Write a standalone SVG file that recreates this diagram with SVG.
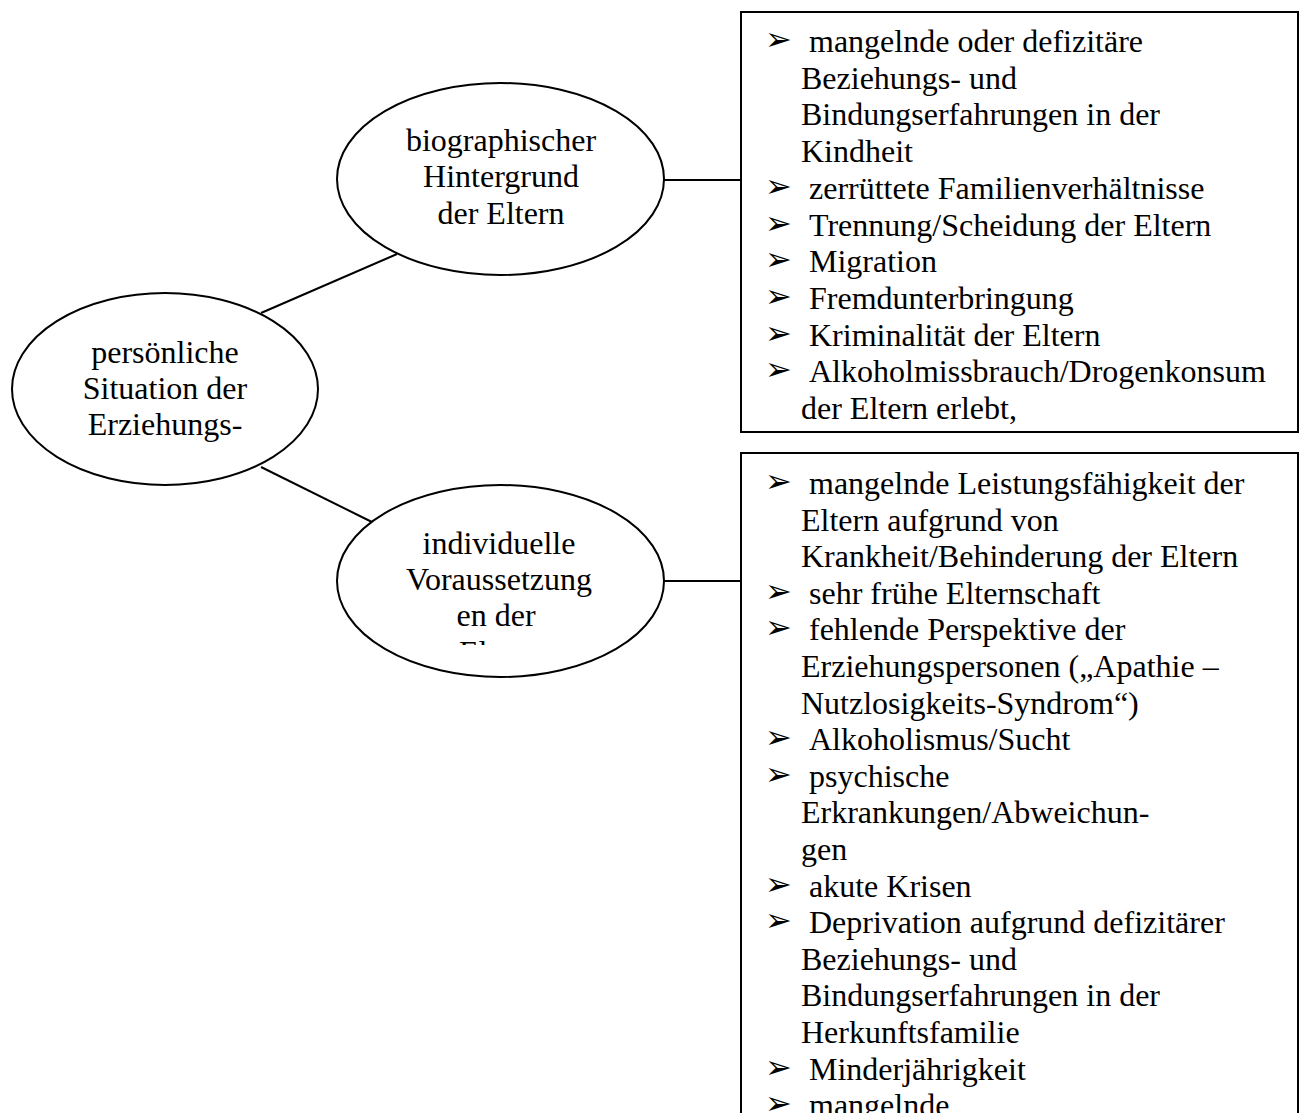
<svg xmlns="http://www.w3.org/2000/svg" width="1302" height="1113" viewBox="0 0 1302 1113">
<style>
.t{font-family:"Liberation Serif","Times New Roman",serif;font-size:32px;fill:#000}
.c{text-anchor:middle}
.b{font-family:"DejaVu Sans",sans-serif;font-size:32px;fill:#000}
.sh{fill:#fff;stroke:#000;stroke-width:2}
.ln{stroke:#000;stroke-width:2;fill:none}
</style>
<defs>
<clipPath id="clip3"><rect x="330" y="480" width="340" height="165"/></clipPath>
</defs>
<rect width="1302" height="1113" fill="#fff"/>
<g id="connectors">
<line class="ln" x1="261" y1="313" x2="397" y2="254"/>
<line class="ln" x1="261" y1="467" x2="376" y2="524"/>
<line class="ln" x1="664" y1="180" x2="741" y2="180"/>
<line class="ln" x1="664" y1="581" x2="741" y2="581"/>
</g>
<g id="node-persoenlich">
<ellipse class="sh" cx="165" cy="389" rx="153" ry="96"/>
<text class="t c" x="165" y="363">persönliche</text>
<text class="t c" x="165" y="399">Situation der</text>
<text class="t c" x="165" y="435">Erziehungs-</text>
</g>
<g id="node-biographisch">
<ellipse class="sh" cx="500.5" cy="179" rx="163.5" ry="96"/>
<text class="t c" x="501" y="151">biographischer</text>
<text class="t c" x="501" y="187">Hintergrund</text>
<text class="t c" x="501" y="224">der Eltern</text>
</g>
<g id="node-individuell">
<ellipse class="sh" cx="500.5" cy="581" rx="163.5" ry="96"/>
<g clip-path="url(#clip3)">
<text class="t c" x="499" y="554">individuelle</text>
<text class="t c" x="499" y="590">Voraussetzung</text>
<text class="t c" x="496" y="626">en der</text>
<text class="t c" x="498" y="663">Eltern</text>
</g>
</g>
<g id="box-biographisch">
<rect class="sh" x="741" y="12" width="557" height="420"/>
<text class="b" x="765" y="50">➢</text><text class="t" x="809" y="52">mangelnde oder defizitäre</text>
<text class="t" x="801" y="88.7">Beziehungs- und</text>
<text class="t" x="801" y="125.4">Bindungserfahrungen in der</text>
<text class="t" x="801" y="162.1">Kindheit</text>
<text class="b" x="765" y="196.8">➢</text><text class="t" x="809" y="198.8">zerrüttete Familienverhältnisse</text>
<text class="b" x="765" y="233.5">➢</text><text class="t" x="809" y="235.5">Trennung/Scheidung der Eltern</text>
<text class="b" x="765" y="270.2">➢</text><text class="t" x="809" y="272.2">Migration</text>
<text class="b" x="765" y="306.9">➢</text><text class="t" x="809" y="308.9">Fremdunterbringung</text>
<text class="b" x="765" y="343.6">➢</text><text class="t" x="809" y="345.6">Kriminalität der Eltern</text>
<text class="b" x="765" y="380.3">➢</text><text class="t" x="809" y="382.3">Alkoholmissbrauch/Drogenkonsum</text>
<text class="t" x="801" y="419">der Eltern erlebt,</text>
</g>
<g id="box-individuell">
<rect class="sh" x="741" y="453" width="557" height="680"/>
<text class="b" x="765" y="492">➢</text><text class="t" x="809" y="494">mangelnde Leistungsfähigkeit der</text>
<text class="t" x="801" y="530.6">Eltern aufgrund von</text>
<text class="t" x="801" y="567.2">Krankheit/Behinderung der Eltern</text>
<text class="b" x="765" y="601.8">➢</text><text class="t" x="809" y="603.8">sehr frühe Elternschaft</text>
<text class="b" x="765" y="638.4">➢</text><text class="t" x="809" y="640.4">fehlende Perspektive der</text>
<text class="t" x="801" y="677">Erziehungspersonen („Apathie –</text>
<text class="t" x="801" y="713.6">Nutzlosigkeits-Syndrom“)</text>
<text class="b" x="765" y="748.2">➢</text><text class="t" x="809" y="750.2">Alkoholismus/Sucht</text>
<text class="b" x="765" y="784.8">➢</text><text class="t" x="809" y="786.8">psychische</text>
<text class="t" x="801" y="823.4">Erkrankungen/Abweichun-</text>
<text class="t" x="801" y="860">gen</text>
<text class="b" x="765" y="894.6">➢</text><text class="t" x="809" y="896.6">akute Krisen</text>
<text class="b" x="765" y="931.2">➢</text><text class="t" x="809" y="933.2">Deprivation aufgrund defizitärer</text>
<text class="t" x="801" y="969.8">Beziehungs- und</text>
<text class="t" x="801" y="1006.4">Bindungserfahrungen in der</text>
<text class="t" x="801" y="1043">Herkunftsfamilie</text>
<text class="b" x="765" y="1077.6">➢</text><text class="t" x="809" y="1079.6">Minderjährigkeit</text>
<text class="b" x="765" y="1114.2">➢</text><text class="t" x="809" y="1116.2">mangelnde</text>
</g>
</svg>
